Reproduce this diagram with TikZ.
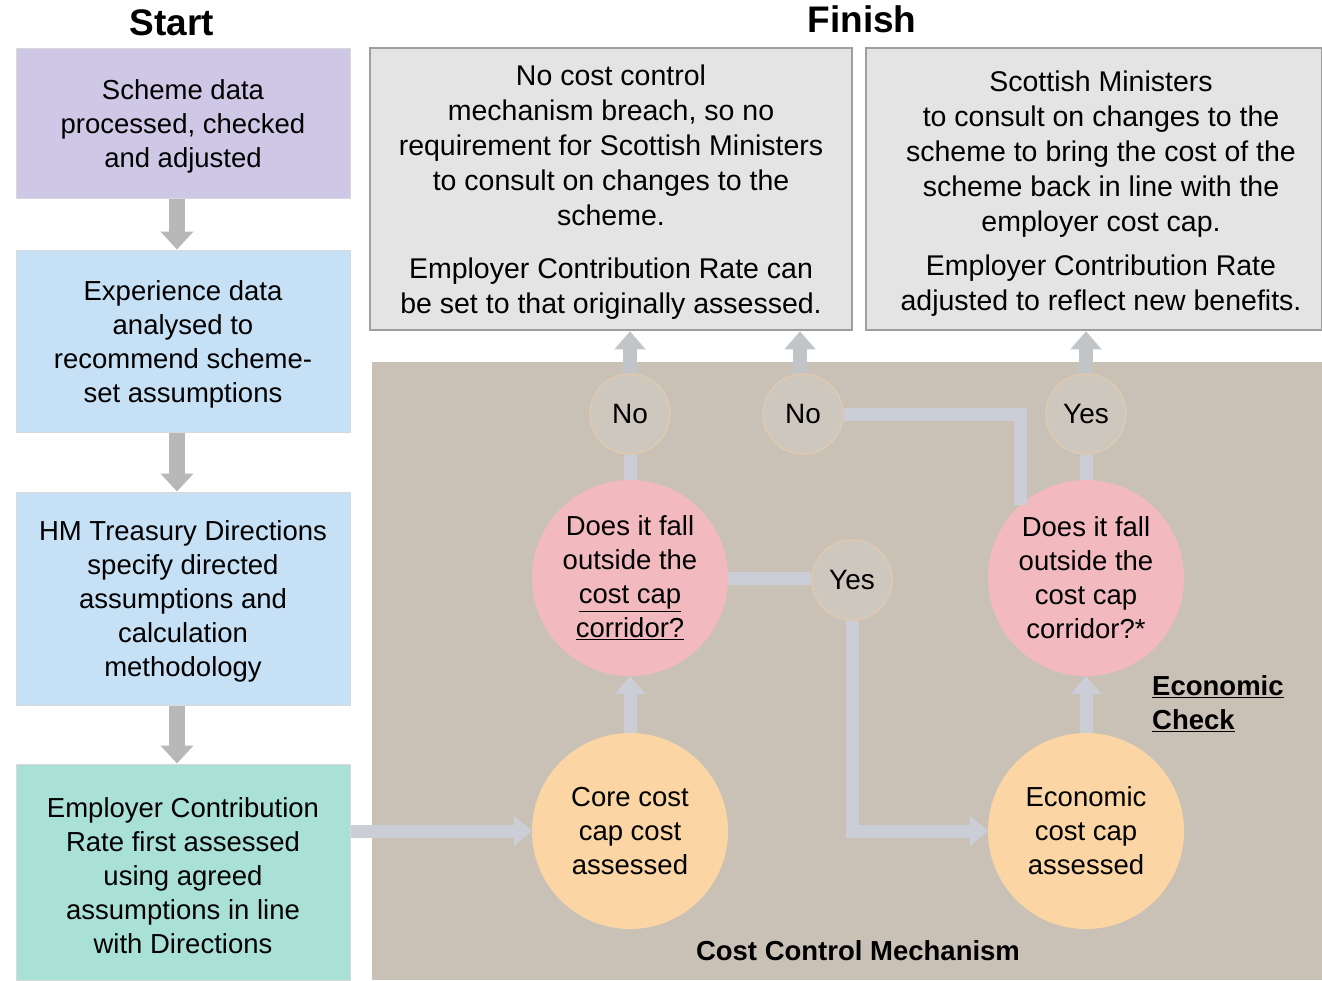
\documentclass[tikz,border=0pt]{standalone}
\usepackage{fontspec}
\setmainfont{Liberation Sans}
\usetikzlibrary{arrows.meta,calc}
\definecolor{cpurple}{HTML}{CFC7E6}
\definecolor{cblue}{HTML}{C6E0F5}
\definecolor{cteal}{HTML}{A9E1D6}
\definecolor{cfin}{HTML}{E4E4E4}
\definecolor{cfinb}{HTML}{9E9E9E}
\definecolor{ctan}{HTML}{C9C1B6}
\definecolor{cpink}{HTML}{F2BABF}
\definecolor{corange}{HTML}{FBD5A3}
\definecolor{csmall}{HTML}{CEC7BD}
\definecolor{csmallb}{HTML}{DFC9B0}
\definecolor{cconn}{HTML}{CBCED6}
\definecolor{cgarrow}{HTML}{B8B8B8}
\definecolor{cuparrow}{HTML}{C2C5C7}
\begin{document}
\begin{tikzpicture}[x=1pt,y=-1pt,
  txt/.style={font=\fontsize{27.5}{34}\selectfont, align=center, inner sep=0pt},
  ftxt/.style={txt, font=\fontsize{28.5}{35}\selectfont},
  lbox/.style={draw=gray!30, line width=1pt, minimum width=334pt, inner sep=0pt},
  fbox/.style={draw=cfinb, line width=2.5pt, fill=cfin, inner sep=0pt},
  bigc/.style={txt, circle, minimum size=196pt},
  smallc/.style={txt, font=\fontsize{28}{34}\selectfont, circle, minimum size=80pt, fill=csmall, draw=csmallb, line width=1.5pt},
  garrow/.style={draw=cgarrow, line width=16pt, -{Triangle[width=32pt,length=18pt]}},
  uparrow/.style={draw=cuparrow, line width=14pt, -{Triangle[width=30pt,length=18pt]}},
  conn/.style={draw=cconn, line width=13pt},
  connarrow/.style={conn, -{Triangle[width=30pt,length=18pt]}},
  title/.style={font=\fontsize{37}{42}\selectfont\bfseries, inner sep=0pt},
  btxt/.style={txt, font=\fontsize{27.5}{34}\selectfont\bfseries}
]
\useasboundingbox (0,0) rectangle (1322,980);
\fill[white] (0,0) rectangle (1322,980);

% titles
\node[title] (start) at (172,23) {Start};
\node[title] (finish) at (862,19) {Finish};

% left column
\node[lbox, fill=cpurple, minimum height=150pt] (b1) at (183,123) {};
\node[txt] (b1t) at (183,126) {Scheme data\\processed, checked\\and adjusted};
\node[lbox, fill=cblue, minimum height=182pt] (b2) at (183,341) {};
\node[txt] (b2t) at (183,344) {Experience data\\analysed to\\recommend scheme-\\set assumptions};
\node[lbox, fill=cblue, minimum height=213pt] (b3) at (183,598.5) {};
\node[txt] (b3t) at (183,601) {HM Treasury Directions\\specify directed\\assumptions and\\calculation\\methodology};
\node[lbox, fill=cteal, minimum height=216pt] (b4) at (183,872) {};
\node[txt] (b4t) at (183,876) {Employer Contribution\\Rate first assessed\\using agreed\\assumptions in line\\with Directions};

\draw[garrow] ([xshift=-6pt]b1.south) -- ([xshift=-6pt]b2.north);
\draw[garrow] ([xshift=-6pt]b2.south) -- ([xshift=-6pt]b3.north);
\draw[garrow] ([xshift=-6pt]b3.south) -- ([xshift=-6pt]b4.north);

% finish boxes
\node[fbox, minimum width=482pt, minimum height=282pt] (fa) at (611,189) {};
\node[ftxt] (fatext) at (611,192.5)
  {No cost control\\mechanism breach, so no\\requirement for Scottish Ministers\\to consult on changes to the\\scheme.\\[18pt]Employer Contribution Rate can\\be set to that originally assessed.};
\node[fbox, minimum width=456pt, minimum height=282pt] (fb) at (1094,189) {};
\node[ftxt] (fbtext) at (1101,193.5)
  {Scottish Ministers\\to consult on changes to the\\scheme to bring the cost of the\\scheme back in line with the\\employer cost cap.\\[9pt]Employer Contribution Rate\\adjusted to reflect new benefits.};

% cost control mechanism area
\fill[ctan] (372,362) rectangle (1322,980);

% nodes in the mechanism area
\node[bigc, fill=cpink] (pl) at (630,578)
  {Does it fall\\outside the\\\underline{cost cap}\\\underline{corridor?}};
\node[bigc, fill=cpink] (pr) at (1086,578)
  {Does it fall\\outside the\\cost cap\\corridor?*};
\node[bigc, fill=corange] (ol) at (630,831)
  {Core cost\\cap cost\\assessed};
\node[bigc, fill=corange] (orr) at (1086,831)
  {Economic\\cost cap\\assessed};
\node[smallc] (no1) at (630,414) {No};
\node[smallc] (no2) at (803,414) {No};
\node[smallc] (yes1) at (1086,414) {Yes};
\node[smallc] (yes2) at (852,580) {Yes};

% connectors
\draw[conn] (pl.north) -- (no1.south);
\draw[conn] (pl.east) -- (pl.east -| yes2.west);
\draw[conn] (pr.north) -- (yes1.south);
\draw[conn] (no2.east) -| (pr.132.5);
\draw[connarrow] (yes2.south) |- (orr.west);
\draw[connarrow] (b4.east |- ol.west) -- (ol.west);
\draw[connarrow] (ol.north) -- (pl.south);
\draw[connarrow] (orr.north) -- (pr.south);

% arrows to finish boxes
\draw[uparrow] (no1.north) -- (no1.north |- fa.south);
\draw[uparrow] ([xshift=-3pt]no2.north) -- ([xshift=-3pt]no2.north |- fa.south);
\draw[uparrow] (yes1.north) -- (yes1.north |- fb.south);

% labels
\node[btxt, align=left, anchor=west] (econ) at (1152,704)
  {\underline{Economic}\\\underline{Check}};
\node[btxt] (ccm) at (858,951) {Cost Control Mechanism};
\end{tikzpicture}
\end{document}
